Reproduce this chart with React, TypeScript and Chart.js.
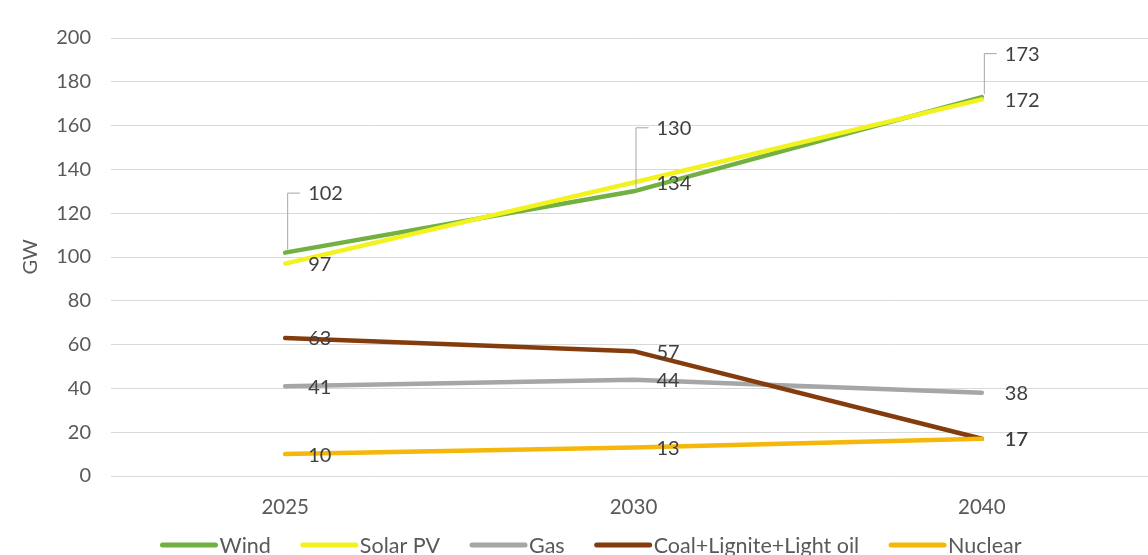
import { useEffect, useRef } from "react";
import { Chart, registerables } from "chart.js";

Chart.register(...registerables);

// Installed capacity by technology (GW)
const years = ["2025", "2030", "2040"];
const wind = [102, 130, 173];
const solarPV = [97, 134, 172];
const gas = [41, 44, 38];
const coalLigniteOil = [63, 57, 17];
const nuclear = [10, 13, 17];

const seriesNames = ["Wind", "Solar PV", "Gas", "Coal+Lignite+Light oil", "Nuclear"];
const seriesValues = [wind, solarPV, gas, coalLigniteOil, nuclear];

const yTickMin = 0;
const yTickMax = 200;
const yTickStep = 20;

// Styling
const seriesColors = ["#72B043", "#F2F21E", "#A6A6A6", "#843C0C", "#F5B80A"];
const FONT = "Lato, 'Open Sans', sans-serif";
const axisTextColor = "#595959";
const labelTextColor = "#404040";
const gridColor = "#D9D9D9";

// Wind labels sit above the line with a leader; vertical rise in pixels per point
const windCalloutRise = [60, 64, 44];

const valueLabels = {
  id: "valueLabels",
  afterDatasetsDraw(chart: Chart) {
    const { ctx } = chart;
    ctx.save();
    ctx.font = `20px ${FONT}`;
    ctx.textAlign = "left";
    ctx.textBaseline = "middle";
    chart.data.datasets.forEach((ds, di) => {
      const meta = chart.getDatasetMeta(di);
      meta.data.forEach((pt, i) => {
        const v = ds.data[i] as number;
        const x = pt.x;
        const y = pt.y;
        let ly = y;
        if (di === 0) {
          ly = y - windCalloutRise[i];
          ctx.strokeStyle = "#A6A6A6";
          ctx.lineWidth = 1;
          ctx.beginPath();
          ctx.moveTo(x + 2.5, y - 3);
          ctx.lineTo(x + 2.5, ly + 0.5);
          ctx.lineTo(x + 15, ly + 0.5);
          ctx.stroke();
        }
        ctx.fillStyle = labelTextColor;
        ctx.fillText(String(v), x + 23, ly + 1);
      });
    });
    ctx.restore();
  },
};

const lineLegend = {
  id: "lineLegend",
  afterDraw(chart: Chart) {
    const { ctx } = chart;
    const lineLen = 57;
    const textGap = 2;
    const itemGap = 30;
    const cy = 545;
    ctx.save();
    ctx.font = `21.5px ${FONT}`;
    const widths = seriesNames.map((n) => lineLen + textGap + ctx.measureText(n).width);
    const total = widths.reduce((a, b) => a + b, 0) + itemGap * (widths.length - 1);
    let x = 591 - total / 2;
    seriesNames.forEach((name, i) => {
      ctx.strokeStyle = seriesColors[i];
      ctx.lineWidth = 5;
      ctx.lineCap = "round";
      ctx.beginPath();
      ctx.moveTo(x + 2, cy);
      ctx.lineTo(x + lineLen - 2, cy);
      ctx.stroke();
      ctx.fillStyle = axisTextColor;
      ctx.textAlign = "left";
      ctx.textBaseline = "middle";
      ctx.fillText(name, x + lineLen + textGap, cy + 1);
      x += widths[i] + itemGap;
    });
    ctx.restore();
  },
};

export default function App() {
  const canvasRef = useRef<HTMLCanvasElement | null>(null);

  useEffect(() => {
    document.documentElement.style.overflow = "hidden";
    document.body.style.overflow = "hidden";
    document.body.style.margin = "0";
    const canvas = canvasRef.current;
    if (!canvas) return;
    const chart = new Chart(canvas, {
      type: "line",
      data: {
        labels: years,
        datasets: seriesNames.map((name, i) => ({
          label: name,
          data: seriesValues[i],
          borderColor: seriesColors[i],
          backgroundColor: seriesColors[i],
          borderWidth: 4.5,
          borderCapStyle: "round" as const,
          borderJoinStyle: "round" as const,
          pointRadius: 0,
          tension: 0,
          order: seriesNames.length - i,
        })),
      },
      options: {
        responsive: false,
        animation: false,
        devicePixelRatio: 1,
        layout: { padding: { top: 38, left: 0, right: 0, bottom: 34 } },
        scales: {
          x: {
            offset: true,
            grid: { display: false, drawTicks: false },
            border: { display: false },
            ticks: { color: axisTextColor, font: { family: FONT, size: 20.5 }, padding: 19 },
            afterFit: (s: any) => {
              s.height = 45;
            },
          },
          y: {
            min: yTickMin,
            max: yTickMax,
            ticks: { stepSize: yTickStep, color: axisTextColor, font: { family: FONT, size: 20 }, padding: 20 },
            grid: { color: gridColor, lineWidth: 1, drawTicks: false },
            border: { display: false },
            title: {
              display: true,
              text: "GW",
              color: axisTextColor,
              font: { family: FONT, size: 20 },
              padding: { top: 19, bottom: 0 },
            },
            afterFit: (s: any) => {
              s.width = 111;
            },
          },
        },
        plugins: {
          legend: { display: false },
          tooltip: { enabled: false },
        },
      },
      plugins: [valueLabels, lineLegend],
    });
    return () => chart.destroy();
  }, []);

  return (
    <div style={{ position: "fixed", left: 0, top: 0, width: 1156, height: 555, background: "#fff" }}>
      <canvas ref={canvasRef} width={1156} height={555} style={{ display: "block" }} />
    </div>
  );
}
